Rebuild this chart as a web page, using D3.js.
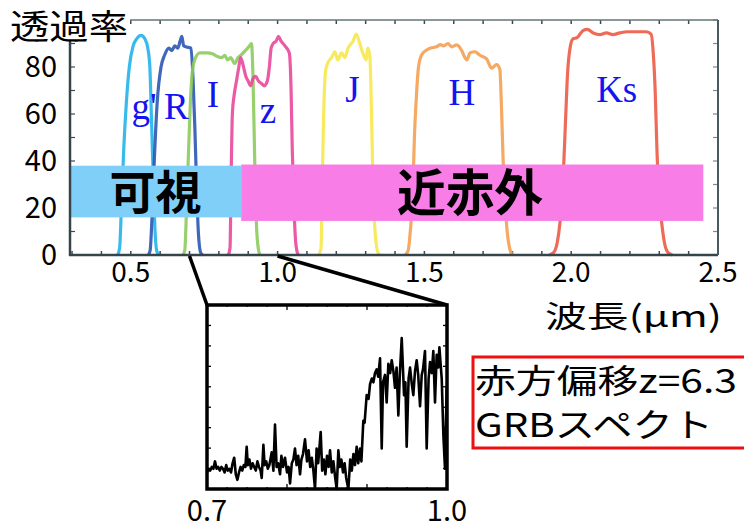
<!DOCTYPE html>
<html>
<head>
<meta charset="utf-8">
<script src="https://cdn.jsdelivr.net/npm/d3@7"></script>
<style>
  body { margin: 0; background: #fff; }
  svg { display: block; }
</style>
</head>
<body>
<div id="chart"></div>
<script>
// filter transmission curves, [wavelength um, transmission %]
var gFilter = [[0.455,0],[0.462,3],[0.468,20],[0.476,45],[0.485,65],[0.495,80],[0.508,89],[0.52,92],[0.535,93.5],[0.548,92],[0.558,88],[0.565,80],[0.570,60],[0.576,35],[0.582,12],[0.588,2],[0.595,0]];
var rFilter = [[0.56,0],[0.566,2],[0.572,15],[0.58,40],[0.59,65],[0.603,80],[0.615,85],[0.63,88],[0.64,87],[0.65,89],[0.66,88],[0.668,91],[0.674,93],[0.68,89],[0.69,88.5],[0.705,88],[0.712,75],[0.718,55],[0.724,30],[0.73,10],[0.738,1],[0.745,0]];
var iFilter = [[0.678,0],[0.684,2],[0.69,20],[0.697,45],[0.705,70],[0.715,82],[0.735,86],[0.76,86],[0.78,85.5],[0.795,84.5],[0.81,84],[0.82,85],[0.83,83],[0.84,84],[0.854,81.5],[0.865,84],[0.875,85],[0.89,87],[0.905,89],[0.911,90],[0.916,77],[0.922,41],[0.928,13],[0.934,3],[0.94,0]];
var zFilter = [[0.832,0],[0.838,3],[0.842,35],[0.846,60],[0.852,68],[0.86,74],[0.868,80],[0.874,84],[0.88,82],[0.886,79],[0.892,76],[0.9,74],[0.908,72],[0.916,75],[0.925,76],[0.935,74],[0.945,73],[0.955,72],[0.965,74],[0.972,80],[0.978,88],[0.985,90],[0.995,91],[1.003,93],[1.012,91],[1.025,89],[1.04,86],[1.046,70],[1.05,45],[1.056,20],[1.062,5],[1.07,0]];
var jFilter = [[1.14,0],[1.148,3],[1.152,30],[1.157,60],[1.163,78],[1.172,82],[1.184,84],[1.195,86.5],[1.205,83],[1.218,86],[1.229,84],[1.24,88],[1.257,91],[1.268,94],[1.28,90],[1.29,86],[1.302,83],[1.307,88],[1.314,85],[1.32,60],[1.325,30],[1.332,10],[1.342,1],[1.35,0]];
var hFilter = [[1.435,0],[1.445,2],[1.452,10],[1.46,25],[1.466,50],[1.473,68],[1.48,80],[1.49,85],[1.505,87],[1.52,88],[1.541,88.6],[1.555,89.5],[1.565,89],[1.58,90],[1.593,88.6],[1.61,89.4],[1.627,87],[1.638,84],[1.645,83],[1.655,86],[1.672,86.5],[1.689,85],[1.712,83.5],[1.729,79.5],[1.746,81],[1.757,79],[1.762,65],[1.768,41],[1.775,22],[1.782,10],[1.79,3],[1.8,0]];
var ksFilter = [[1.925,0],[1.94,1],[1.952,5],[1.962,14],[1.972,31],[1.98,55],[1.988,78],[1.996,88],[2.006,92],[2.02,92.5],[2.04,95.5],[2.055,96],[2.075,94.5],[2.098,93.8],[2.12,94.5],[2.142,93.8],[2.166,94.5],[2.19,95],[2.21,95],[2.234,95],[2.256,95],[2.272,94],[2.28,85],[2.286,70],[2.292,45],[2.298,28],[2.308,14],[2.318,5],[2.33,1],[2.345,0]];

var filterNames = ["g'", "R", "I", "z", "J", "H", "Ks"];
var filterColors = ["#22b4ea", "#2b56b2", "#8ccb5c", "#e9489b", "#f6e84c", "#f4a052", "#ec5b45"];
// label anchor per filter [wavelength um, transmission %]
var labelPos = [[0.545, 58], [0.655, 58], [0.78, 63], [0.967, 56], [1.255, 65], [1.628, 64], [2.155, 65]];

// band boxes [from, to] in um
var visibleBand = [0.293, 0.876];
var nirBand = [0.876, 2.45];

var xTicks = [0.5, 1.0, 1.5, 2.0, 2.5];
var yTicks = [0, 20, 40, 60, 80];

// GRB spectrum z=6.3, [wavelength um, relative flux]
var grbSpectrum = [[0.700,9],[0.702,11],[0.704,10],[0.706,12],[0.708,11],[0.710,15],[0.712,11],[0.714,12],[0.716,10],[0.718,12],[0.720,11],[0.722,9],[0.724,13],[0.726,10],[0.728,11],[0.730,9],[0.732,14],[0.734,17],[0.736,8],[0.738,5],[0.740,9],[0.742,12],[0.744,10],[0.746,13],[0.748,12],[0.7496,23],[0.751,13],[0.753,16],[0.755,11],[0.757,14],[0.759,12],[0.761,10],[0.763,15],[0.765,12],[0.767,10],[0.7684,6],[0.7705,24],[0.772,13],[0.774,15],[0.776,11],[0.778,13],[0.7809,20],[0.783,10],[0.785,35],[0.787,12],[0.789,14],[0.7913,8],[0.793,18],[0.795,12],[0.7975,17],[0.800,9],[0.802,12],[0.8038,3],[0.806,14],[0.808,16],[0.810,22],[0.812,13],[0.814,18],[0.8163,8],[0.818,16],[0.820,19],[0.8225,27],[0.825,15],[0.827,21],[0.829,12],[0.831,17],[0.833,10],[0.835,0],[0.837,22],[0.839,14],[0.8421,31],[0.844,10],[0.846,16],[0.848,8],[0.850,18],[0.852,12],[0.8538,21],[0.856,9],[0.858,15],[0.860,7],[0.8621,0],[0.8642,21],[0.866,12],[0.868,16],[0.870,9],[0.872,14],[0.874,6],[0.8767,0],[0.879,16],[0.881,10],[0.883,19],[0.885,13],[0.8871,23],[0.889,14],[0.8913,22],[0.893,15],[0.8954,37],[0.897,36],[0.8996,51],[0.902,49],[0.9038,57],[0.906,60],[0.908,58],[0.910,63],[0.9121,65],[0.914,61],[0.9163,71],[0.9184,22],[0.920,58],[0.9225,62],[0.9246,47],[0.9267,68],[0.929,63],[0.9309,70],[0.933,64],[0.935,55],[0.937,66],[0.9392,40],[0.941,62],[0.9434,82],[0.9463,51],[0.948,58],[0.9496,23],[0.952,60],[0.9538,66],[0.956,57],[0.9579,51],[0.960,64],[0.9621,70],[0.964,62],[0.9663,45],[0.9684,62],[0.970,65],[0.9725,75],[0.9746,22],[0.977,60],[0.9788,69],[0.981,63],[0.9829,75],[0.985,47],[0.9871,73],[0.989,66],[0.9905,77],[0.992,68],[0.9934,60],[0.9955,29],[0.9975,11],[0.9996,55]];
var insetTicks = [0.7, 1.0];

var W = 744, H = 527;
var jp = "'Noto Sans CJK JP', 'Noto Sans', sans-serif";
var serif = "'Liberation Serif', 'DejaVu Serif', serif";

var svg = d3.select("#chart").append("svg")
  .attr("width", W)
  .attr("height", H);

var x = d3.scaleLinear().domain([0.293, 2.5]).range([70, 718]);
var y = d3.scaleLinear().domain([0, 100]).range([255, 20]);

// frame ticks
var g = svg.append("g");
d3.range(0.3, 2.51, 0.1).forEach(function(t) {
  g.append("line").attr("x1", x(t)).attr("x2", x(t)).attr("y1", y(0)).attr("y2", y(0) - 4)
    .attr("stroke", "#3a4a50").attr("stroke-width", 1.5);
  g.append("line").attr("x1", x(t)).attr("x2", x(t)).attr("y1", y(100)).attr("y2", y(100) + 4)
    .attr("stroke", "#3a4a50").attr("stroke-width", 1.5);
});
d3.range(0, 101, 10).forEach(function(t) {
  g.append("line").attr("x1", x.range()[0]).attr("x2", x.range()[0] + 5).attr("y1", y(t)).attr("y2", y(t))
    .attr("stroke", "#3a4a50").attr("stroke-width", 1.2);
  g.append("line").attr("x1", x.range()[1]).attr("x2", x.range()[1] - 5).attr("y1", y(t)).attr("y2", y(t))
    .attr("stroke", "#7a8a90").attr("stroke-width", 1.2);
});

// filter curves
var line = d3.line()
  .x(function(d) { return x(d[0]); })
  .y(function(d) { return y(d[1]); })
  .curve(d3.curveMonotoneX);

var filters = [gFilter, rFilter, iFilter, zFilter, jFilter, hFilter, ksFilter];
filters.forEach(function(f, i) {
  svg.append("path")
    .attr("d", line(f))
    .attr("fill", "none")
    .attr("stroke", filterColors[i])
    .attr("stroke-width", 3.2)
    .attr("stroke-linejoin", "round")
    .attr("opacity", 0.9);
});

// band boxes
svg.append("rect")
  .attr("x", x(visibleBand[0])).attr("y", y(38))
  .attr("width", x(visibleBand[1]) - x(visibleBand[0]))
  .attr("height", y(16) - y(38))
  .attr("fill", "#7fcff9");
svg.append("rect")
  .attr("x", x(nirBand[0])).attr("y", y(38.5))
  .attr("width", x(nirBand[1]) - x(nirBand[0]))
  .attr("height", y(14.5) - y(38.5))
  .attr("fill", "#f97de6");

svg.append("text")
  .attr("x", (x(visibleBand[0]) + x(visibleBand[1])) / 2).attr("y", 209)
  .attr("text-anchor", "middle")
  .attr("font-family", jp).attr("font-weight", "bold").attr("font-size", 46)
  .attr("textLength", 92).attr("lengthAdjust", "spacingAndGlyphs")
  .text("可視");
svg.append("text")
  .attr("x", 470).attr("y", 211)
  .attr("text-anchor", "middle")
  .attr("font-family", jp).attr("font-weight", "bold").attr("font-size", 50)
  .attr("textLength", 146).attr("lengthAdjust", "spacingAndGlyphs")
  .text("近赤外");

// axes lines
svg.append("line").attr("x1", 70).attr("x2", 70).attr("y1", 20).attr("y2", 256)
  .attr("stroke", "#34444a").attr("stroke-width", 2.5);
svg.append("line").attr("x1", 69).attr("x2", 718).attr("y1", 255).attr("y2", 255)
  .attr("stroke", "#34444a").attr("stroke-width", 2.5);
svg.append("line").attr("x1", 70).attr("x2", 718).attr("y1", 20).attr("y2", 20)
  .attr("stroke", "#667478").attr("stroke-width", 1.5);
svg.append("line").attr("x1", 718).attr("x2", 718).attr("y1", 20).attr("y2", 255)
  .attr("stroke", "#4a5a60").attr("stroke-width", 2);

// filter labels
svg.selectAll(".flab").data(filterNames).enter().append("text")
  .attr("class", "flab")
  .attr("x", function(d, i) { return x(labelPos[i][0]); })
  .attr("y", function(d, i) { return y(labelPos[i][1]); })
  .attr("text-anchor", "middle")
  .attr("font-family", serif).attr("font-size", 37)
  .attr("fill", "#1414f0")
  .text(function(d) { return d; });

// tick labels
svg.selectAll(".xl").data(xTicks).enter().append("text")
  .attr("x", function(d) { return x(d); }).attr("y", 282)
  .attr("text-anchor", "middle")
  .attr("font-family", jp).attr("font-size", 28)
  .text(function(d) { return d.toFixed(1); });
svg.selectAll(".yl").data(yTicks).enter().append("text")
  .attr("x", 57).attr("y", function(d) { return y(d) + 10; })
  .attr("text-anchor", "end")
  .attr("font-family", jp).attr("font-size", 29)
  .text(function(d) { return d; });

// y title with white backing
svg.append("rect").attr("x", 0).attr("y", 0).attr("width", 130).attr("height", 40).attr("fill", "#fff");
svg.append("text")
  .attr("x", 10).attr("y", 39)
  .attr("font-family", jp).attr("font-size", 34)
  .attr("textLength", 118).attr("lengthAdjust", "spacingAndGlyphs")
  .text("透過率");

svg.append("text")
  .attr("x", 545).attr("y", 327)
  .attr("font-family", jp).attr("font-size", 30)
  .attr("textLength", 177).attr("lengthAdjust", "spacingAndGlyphs")
  .text("波長(μm)");

// inset
var xi = d3.scaleLinear().domain([0.7, 1.0]).range([207, 447]);
var yi = d3.scaleLinear().domain([0, 100]).range([489, 305]);

svg.append("line").attr("x1", x(0.7)).attr("y1", 256).attr("x2", xi(0.7)).attr("y2", yi(100))
  .attr("stroke", "#000").attr("stroke-width", 3.5);
svg.append("line").attr("x1", x(1.0)).attr("y1", 256).attr("x2", xi(1.0)).attr("y2", yi(100))
  .attr("stroke", "#000").attr("stroke-width", 3.5);

svg.append("rect").attr("x", 207).attr("y", 305).attr("width", 240).attr("height", 184)
  .attr("fill", "#fff");

var ig = svg.append("g");
d3.range(0.7, 1.001, 0.025).forEach(function(t, i) {
  var len = (i % 4 === 0) ? 5 : 2;
  ig.append("line").attr("x1", xi(t)).attr("x2", xi(t)).attr("y1", 489).attr("y2", 489 - len)
    .attr("stroke", "#000").attr("stroke-width", 1.3);
  ig.append("line").attr("x1", xi(t)).attr("x2", xi(t)).attr("y1", 305).attr("y2", 305 + len)
    .attr("stroke", "#000").attr("stroke-width", 1.3);
});
d3.range(0, 100.1, 100 / 9).forEach(function(t) {
  ig.append("line").attr("x1", 207).attr("x2", 211).attr("y1", yi(t)).attr("y2", yi(t))
    .attr("stroke", "#000").attr("stroke-width", 1.3);
  ig.append("line").attr("x1", 447).attr("x2", 443).attr("y1", yi(t)).attr("y2", yi(t))
    .attr("stroke", "#000").attr("stroke-width", 1.3);
});

var sline = d3.line()
  .x(function(d) { return xi(d[0]); })
  .y(function(d) { return yi(d[1]); });
svg.append("path")
  .attr("d", sline(grbSpectrum))
  .attr("fill", "none")
  .attr("stroke", "#000")
  .attr("stroke-width", 2.6)
  .attr("stroke-linejoin", "round");

svg.append("rect").attr("x", 207).attr("y", 305).attr("width", 240).attr("height", 184)
  .attr("fill", "none").attr("stroke", "#000").attr("stroke-width", 3.5);

svg.selectAll(".il").data(insetTicks).enter().append("text")
  .attr("x", function(d) { return xi(d); }).attr("y", 521)
  .attr("text-anchor", "middle")
  .attr("font-family", jp).attr("font-size", 29)
  .text(function(d) { return d.toFixed(1); });

// red label box
svg.append("rect").attr("x", 473).attr("y", 357).attr("width", 290).attr("height", 91)
  .attr("fill", "#fff").attr("stroke", "#ee1010").attr("stroke-width", 3);
svg.append("text").attr("x", 475).attr("y", 393)
  .attr("font-family", jp).attr("font-size", 33)
  .attr("textLength", 262).attr("lengthAdjust", "spacingAndGlyphs")
  .text("赤方偏移z=6.3");
svg.append("text").attr("x", 475).attr("y", 437)
  .attr("font-family", jp).attr("font-size", 33)
  .attr("textLength", 238).attr("lengthAdjust", "spacingAndGlyphs")
  .text("GRBスペクト");
</script>
</body>
</html>
